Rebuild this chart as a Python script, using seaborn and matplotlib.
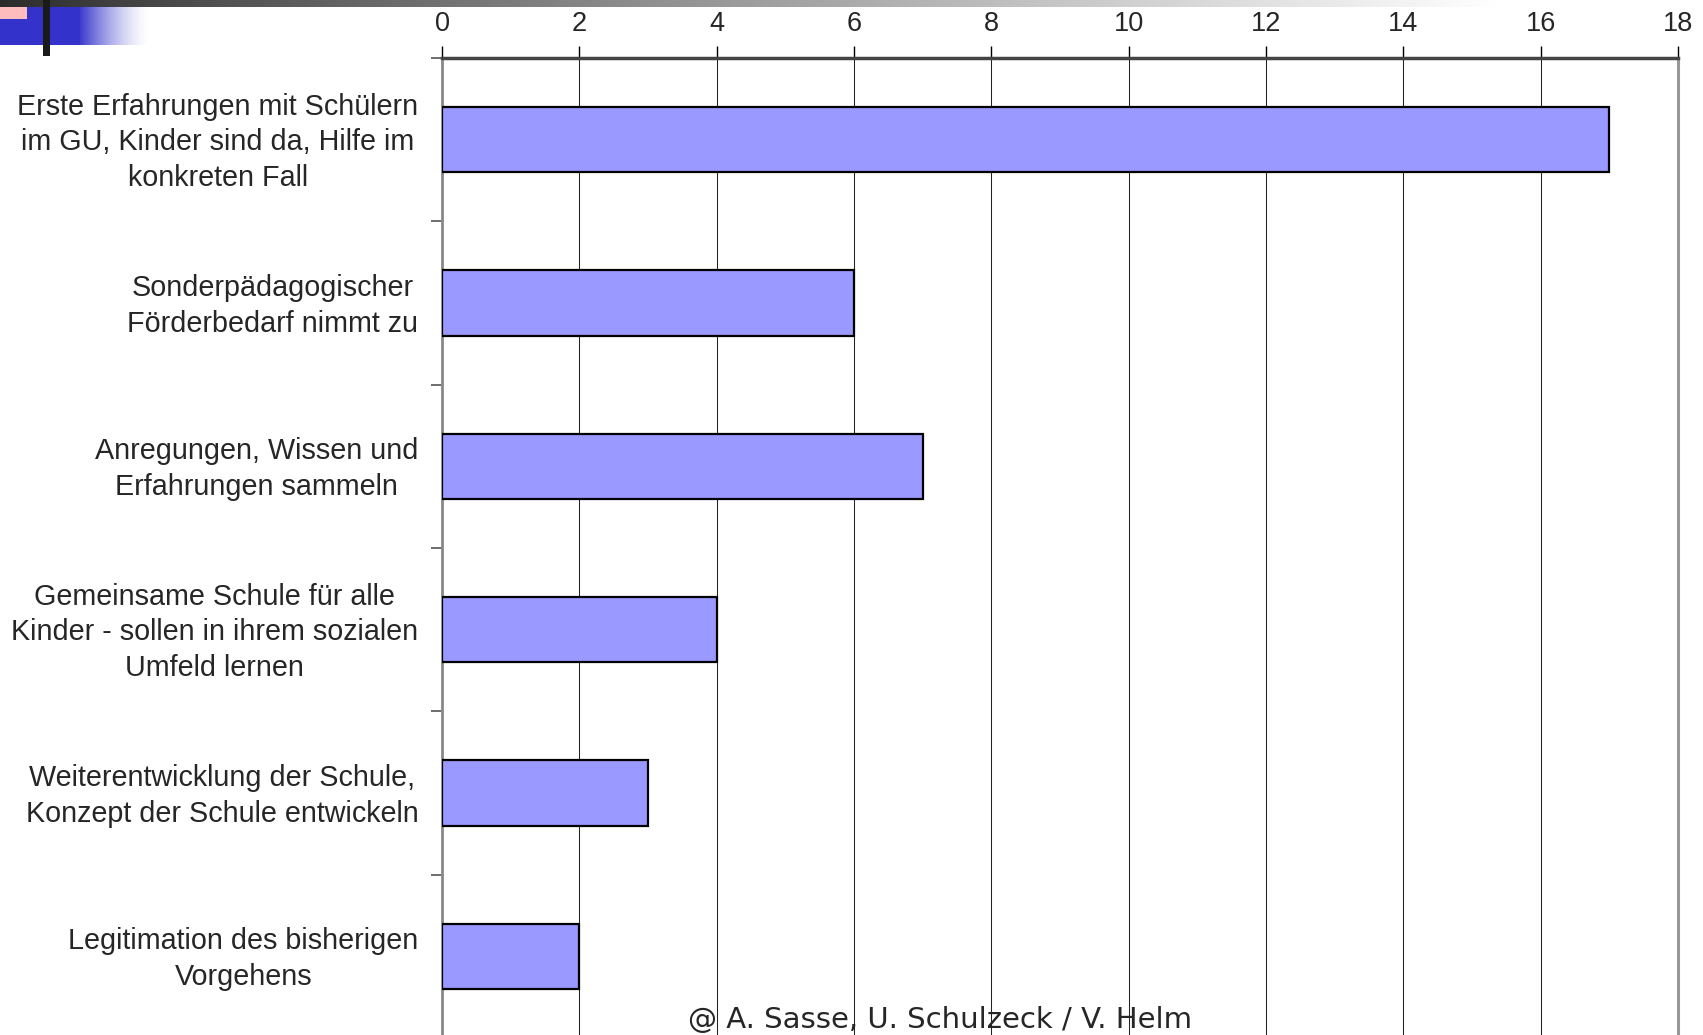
import numpy as np
import pandas as pd
import matplotlib
matplotlib.use('Agg')
import matplotlib.pyplot as plt
import matplotlib.transforms as mtrans
from matplotlib.patches import Rectangle
import seaborn as sns

# Data
categories = [
    'Erste Erfahrungen mit Schülern\nim GU, Kinder sind da, Hilfe im\nkonkreten Fall',
    'Sonderpädagogischer\nFörderbedarf nimmt zu',
    'Anregungen, Wissen und\nErfahrungen sammeln',
    'Gemeinsame Schule für alle\nKinder - sollen in ihrem sozialen\nUmfeld lernen',
    'Weiterentwicklung der Schule,\nKonzept der Schule entwickeln',
    'Legitimation des bisherigen\nVorgehens',
]
counts = [17, 6, 7, 4, 3, 2]
x_ticks = [0, 2, 4, 6, 8, 10, 12, 14, 16, 18]
footer = '@ A. Sasse, U. Schulzeck / V. Helm'

df = pd.DataFrame({'Kategorie': categories, 'Anzahl': counts})

sns.set_style('white')
plt.rcParams['font.family'] = ['Liberation Sans', 'DejaVu Sans']

fig = plt.figure(figsize=(17.03, 10.35), dpi=100)

# slide decoration (top left corner), in pixel coordinates
deco = fig.add_axes([0, 0, 1, 1], zorder=-1)
grad = np.linspace(0, 1, 400)
gray = np.clip(0.17 + 0.83 * grad ** 0.9, 0, 1)
gray_img = np.repeat(np.dstack([gray, gray, gray]), 2, axis=0)
deco.imshow(gray_img, extent=[0, 1500, 7, 0], aspect='auto')
deco.add_patch(Rectangle((0, 7), 80, 38, color='#3333cc', lw=0))
fade = np.linspace(0, 1, 100)
blue_img = np.ones((2, 100, 4))
blue_img[..., 0] = 0.2
blue_img[..., 1] = 0.2
blue_img[..., 2] = 0.8
blue_img[..., 3] = (1 - fade) ** 1.5
deco.imshow(blue_img, extent=[78, 150, 45, 7], aspect='auto')
deco.add_patch(Rectangle((0, 7), 27, 12, color='#ffbcbc', lw=0))
deco.add_patch(Rectangle((43, 0), 7, 56, color='#1a1a1a', lw=0))
deco.set_xlim(0, 1703)
deco.set_ylim(1035, 0)
deco.axis('off')

ax = fig.add_axes([442 / 1703, -0.003, (1678 - 442) / 1703, 0.947])
sns.barplot(data=df, x='Anzahl', y='Kategorie', orient='h', color='#9999ff',
            saturation=1, edgecolor='black', linewidth=1.6, width=0.4, ax=ax,
            zorder=3)

ax.set_xlim(0, 18)
ax.set_ylim(5.5, -0.5)
ax.set_xlabel('')
ax.set_ylabel('')

ax.xaxis.tick_top()
ax.set_xticks(x_ticks)
ax.set_xticklabels([str(t) for t in x_ticks], fontsize=19.5)
ax.tick_params(axis='x', direction='out', length=9, width=1, color='black',
               pad=6, top=True, bottom=False)
ax.xaxis.grid(True, color='#222222', linewidth=0.75, zorder=0)
ax.set_axisbelow(True)

ax.set_yticks(range(len(categories)))
ax.set_yticklabels(categories, fontsize=20.7, multialignment='center',
                   linespacing=1.35)
ax.tick_params(axis='y', length=0, pad=17)
shift = mtrans.ScaledTranslation(0, 3 / 72, fig.dpi_scale_trans)
for lab in ax.get_yticklabels():
    lab.set_transform(lab.get_transform() + shift)
ax.set_yticks(np.arange(-0.5, 6, 1), minor=True)
ax.tick_params(axis='y', which='minor', length=8, width=1.2, color='#555555',
               left=True)

for side in ['top', 'left', 'right', 'bottom']:
    ax.spines[side].set_visible(True)
ax.spines['top'].set_color('#444444')
ax.spines['top'].set_linewidth(2.5)
ax.spines['left'].set_color('#888888')
ax.spines['left'].set_linewidth(2)
ax.spines['right'].set_color('#999999')
ax.spines['right'].set_linewidth(2.2)
ax.spines['bottom'].set_visible(False)

fig.text(940 / 1703, 0.007, footer, ha='center', va='baseline',
         fontsize=21, family='DejaVu Sans')

fig.savefig('out.png', dpi=100)
